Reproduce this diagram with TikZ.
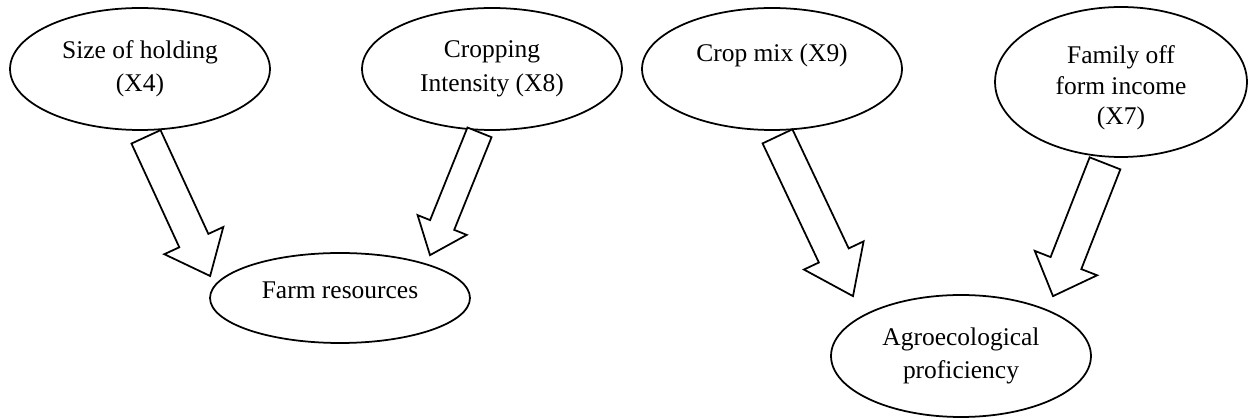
\documentclass[tikz,border=0pt]{standalone}
\usepackage{fontspec}
\setmainfont{Liberation Serif}
\usetikzlibrary{shapes.geometric, calc}
\newcommand{\blockarrow}[5]{
    \coordinate (hb) at ($(#2)!#5!(#1)$);
    \draw[fat] ($(#1)!#3!90:(#2)$) -- ($(hb)!#3!90:(#2)$) -- ($(hb)!#4!90:(#2)$) -- (#2)
        -- ($(hb)!#4!-90:(#2)$) -- ($(hb)!#3!-90:(#2)$) -- ($(#1)!#3!-90:(#2)$) -- cycle;
}
\begin{document}
\begin{tikzpicture}[x=0.02cm, y=-0.02cm, line width=1pt, main/.style = {draw, ellipse, inner sep=0pt, align=center, minimum width=5.2cm, minimum height=2.44cm, font=\fontsize{14.5}{19}\selectfont}, fat/.style = {draw, fill=white, line join=miter}]
            \useasboundingbox (0,0) rectangle (1248,418);
            \node[main] (1) at (140,69) {Size of holding\\(X4)};
            \node[main] (2) at (492,69) {Cropping\\Intensity (X8)};
            \node[main] (3) at (772,69) {Crop mix (X9)\\\mbox{}};
            \node[main, minimum width=5.04cm, minimum height=3cm, text height=52pt, font=\fontsize{14.5}{17.5}\selectfont] (5) at (1121,82) {Family off\\form income\\(X7)};
            \node[main, minimum height=1.8cm, text height=9.5pt, text depth=9pt] (4) at (340,298) {Farm resources};
            \node[main] (6) at (961,356) {Agroecological\\proficiency};
            \coordinate (s1) at ($(1.south)+(6,6)$);
            \coordinate (e1) at ($(4.west)+(1,-22)$);
            \coordinate (s2) at ($(2.south)+(-12.5,1.5)$);
            \coordinate (e2) at ($(4.north)+(90,3)$);
            \coordinate (s3) at ($(3.south)+(5.5,5.5)$);
            \coordinate (e3) at ($(6.north)+(-108,2)$);
            \coordinate (s4) at ($(5.south)+(-16,5.5)$);
            \coordinate (e4) at ($(6.north)+(92,2)$);
            \blockarrow{s1}{e1}{0.32cm}{0.65cm}{0.78cm}
            \blockarrow{s2}{e2}{0.26cm}{0.53cm}{0.65cm}
            \blockarrow{s3}{e3}{0.33cm}{0.66cm}{0.9cm}
            \blockarrow{s4}{e4}{0.33cm}{0.67cm}{0.71cm}
        \end{tikzpicture}
\end{document}
